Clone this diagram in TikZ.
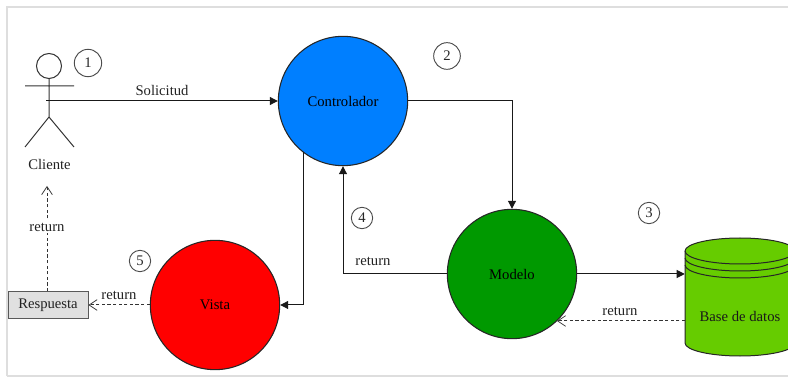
\documentclass[tikz,border=0pt]{standalone}
\usepackage{fontspec}
\setmainfont{Liberation Serif}
\usetikzlibrary{arrows.meta,calc}
\definecolor{frameC}{HTML}{DEDEDE}
\definecolor{ctrlC}{HTML}{007FFF}
\definecolor{modC}{HTML}{009900}
\definecolor{dbC}{HTML}{66CC00}
\definecolor{respC}{HTML}{E0E0E0}
\definecolor{txtC}{HTML}{222222}
\tikzset{
  big/.style={circle,draw=black!85,line width=0.8pt,minimum size=97pt,inner sep=0pt,text=black,font=\fontsize{11}{13}\selectfont},
  numc/.style={circle,draw=black!70,line width=0.7pt,inner sep=0pt,text=black!85,font=\fontsize{11}{13}\selectfont},
  lab/.style={text=txtC,inner sep=1pt,font=\fontsize{11}{13}\selectfont},
  solidarrow/.style={draw=black!90,line width=0.75pt,-{Triangle[length=6pt,width=6pt]}},
  retarrow/.style={draw=black!80,line width=0.75pt,dashed,dash pattern=on 2.4pt off 1.8pt,-{Straight Barb[length=6pt,width=8pt,line width=0.55pt]}},
  stick/.style={draw=black!80,line width=0.75pt},
  dbline/.style={draw=black!85,line width=0.75pt}
}
\begin{document}
\begin{tikzpicture}[x=0.75pt,y=-0.75pt]
\useasboundingbox (0,0) rectangle (788,377);
\begin{scope}
\clip (0,0) rectangle (788,377);
\draw[frameC,line width=1.2pt] (7,376) -- (7,7) -- (800,7);
\draw[frameC,line width=1.2pt] (7,376) -- (800,376);

% actor
\draw[stick] (49,66) circle [radius=12.5*0.75pt];
\coordinate (neck) at (49,78.5);
\coordinate (hip) at (49,117);
\coordinate (armL) at (25,86);
\coordinate (armR) at (74,86);
\coordinate (legL) at (25,147);
\coordinate (legR) at (74,147);
\coordinate (actorHand) at (46,101);
\draw[stick] (neck) -- (hip) (armL) -- (armR) (legL) -- (hip) -- (legR);
\node[lab] (cliente) at (49.5,164.5) {Cliente};

% main nodes
\node[big,fill=ctrlC] (ctrl) at (343,101) {Controlador};
\node[big,fill=modC] (mod) at (512,274) {Modelo};
\node[big,fill=red] (vista) at (215,305) {Vista};
\node[draw=black!65,fill=respC,line width=0.7pt,minimum width=60pt,minimum height=20pt,inner sep=0pt,text=txtC,font=\fontsize{11}{13}\selectfont] (resp) at (48,305) {Respuesta};

% database
\fill[dbC] (685,251) arc[start angle=180,end angle=0,x radius=41.25pt,y radius=9.75pt] -- (795,343) arc[start angle=0,end angle=-180,x radius=41.25pt,y radius=9.75pt] -- cycle;
\draw[dbline] (795,251) arc[start angle=0,end angle=180,x radius=41.25pt,y radius=9.75pt] -- (685,343) arc[start angle=180,end angle=360,x radius=41.25pt,y radius=9.75pt] -- cycle;
\draw[dbline] (685,251) arc[start angle=180,end angle=360,x radius=41.25pt,y radius=9.75pt];
\draw[dbline] (685,258) arc[start angle=180,end angle=360,x radius=41.25pt,y radius=9.75pt];
\draw[dbline] (685,265) arc[start angle=180,end angle=360,x radius=41.25pt,y radius=9.75pt];
\node[inner sep=0pt,minimum width=82.5pt,minimum height=88pt] (db) at (740,297) {};
\node[text=black!90,inner sep=0pt,font=\fontsize{11}{13}\selectfont] (dbtext) at (740,316) {Base de datos};

% numbers
\node[numc,minimum size=20.5pt] (n1) at (88,63) {1};
\node[numc,minimum size=20pt] (n2) at (447,56) {2};
\node[numc,minimum size=16pt] (n3) at (649,213) {3};
\node[numc,minimum size=16pt] (n4) at (362,218) {4};
\node[numc,minimum size=16pt] (n5) at (140,261) {5};

% connectors
\draw[solidarrow] (actorHand) -- (ctrl.west |- actorHand);
\draw[solidarrow] (ctrl.east) -| (mod.north);
\draw[solidarrow] (mod.east) -- (mod.east -| db.west);
\draw[solidarrow] (mod.west) -| (ctrl.south);
\draw[solidarrow] (ctrl.center |- 303,152) ++(-40,0) coordinate (cv) -- (cv |- vista.east) -- (vista.east);
\coordinate (dbRet) at (685,321);
\coordinate (modRet) at (557,321);
\draw[retarrow] (dbRet) -- (modRet);
\draw[retarrow] (vista.west) -- (resp.east);
\coordinate (clienteRet) at (47,186);
\draw[retarrow] (resp.north -| clienteRet) -- (clienteRet);

% labels
\node[lab] (l1) at (162,90.5) {Solicitud};
\node[lab] (l2) at (373,261) {return};
\node[lab] (l3) at (620,311) {return};
\node[lab] (l4) at (119,295) {return};
\node[lab,fill=white] (l5) at (47,227) {return};
\end{scope}
\end{tikzpicture}
\end{document}
